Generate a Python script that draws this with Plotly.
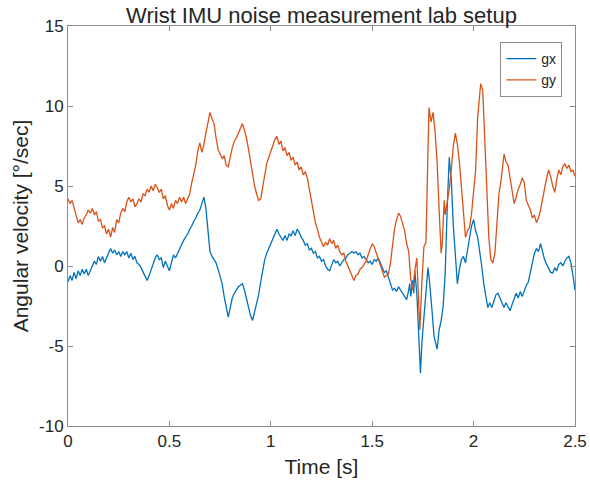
import plotly.graph_objects as go

# ---- data ----
gy_t = [0.00,0.01,0.02,0.03,0.05,0.06,0.07,0.08,0.09,0.10,0.11,0.12,0.13,0.14,0.15,0.16,0.17,0.18,0.19,0.20,
        0.21,0.22,0.23,0.24,0.25,0.26,0.27,0.28,0.29,0.30,0.31,0.32,0.33,0.34,0.35,0.36,0.37,0.38,0.39,0.40,
        0.41,0.42,0.43,0.44,0.45,0.46,0.47,0.48,0.49,0.50,0.51,0.52,0.53,0.54,0.55,0.56,0.57,0.58,0.59,0.60,
        0.61,0.62,0.63,0.64,0.65,0.66,0.67,0.68,0.69,0.70,0.71,0.72,0.73,0.74,0.75,0.76,0.77,0.78,0.79,0.80,
        0.81,0.82,0.83,0.84,0.85,0.86,0.87,0.88,0.89,0.90,0.91,0.92,0.93,0.94,0.95,0.96,0.97,0.98,0.99,1.00,
        1.01,1.02,1.03,1.04,1.05,1.06,1.07,1.08,1.09,1.10,1.11,1.12,1.13,1.14,1.15,1.16,1.17,1.18,1.19,1.20,
        1.21,1.22,1.23,1.24,1.25,1.26,1.27,1.28,1.29,1.30,1.31,1.32,1.33,1.34,1.35,1.36,1.37,1.38,1.39,1.40,
        1.41,1.42,1.43,1.44,1.45,1.46,1.47,1.48,1.49,1.50,1.51,1.52,1.53,1.54,1.55,1.56,1.57,1.58,1.59,1.60,
        1.61,1.62,1.63,1.64,1.65,1.66,1.67,1.68,1.69,1.70,1.71,1.72,1.73,1.735,1.745,1.755,1.765,1.775,1.78,1.79,
        1.80,1.81,1.82,1.83,1.84,1.845,1.85,1.855,1.86,1.87,1.88,1.89,1.90,1.91,1.92,1.93,1.94,1.95,1.96,1.97,
        1.98,1.99,2.00,2.01,2.02,2.035,2.045,2.055,2.065,2.075,2.085,2.095,2.105,2.115,2.125,2.135,2.14,2.15,2.16,2.17,
        2.18,2.19,2.20,2.21,2.22,2.23,2.24,2.25,2.26,2.27,2.28,2.29,2.30,2.31,2.32,2.33,2.34,2.35,2.36,2.37,
        2.38,2.39,2.40,2.41,2.42,2.43,2.44,2.45,2.46,2.47,2.48,2.49,2.50]
gy_v = [4.2,3.9,4.1,3.6,2.7,2.9,2.6,3.0,3.2,3.5,3.3,3.6,3.2,3.4,2.8,2.9,2.4,2.5,2.0,2.3,
        1.8,2.4,2.1,2.9,2.7,3.3,3.6,3.4,4.0,4.3,4.0,4.2,3.7,3.9,4.2,4.0,4.5,4.4,4.8,4.6,
        5.0,4.7,5.1,4.9,4.6,4.8,4.2,4.4,3.8,3.5,3.9,3.6,4.1,3.9,4.3,4.0,4.3,3.9,4.2,4.5,
        5.2,5.8,6.3,7.2,7.7,7.1,7.6,8.3,9.0,9.6,9.2,8.9,8.0,7.3,7.0,6.7,6.9,6.3,6.2,6.9,
        7.4,7.8,8.0,8.3,8.6,8.9,8.5,8.0,7.3,6.5,5.7,5.0,4.5,4.1,4.2,4.9,5.8,6.4,6.8,7.2,
        7.5,7.9,8.1,7.6,7.8,7.2,7.4,6.9,7.1,6.6,6.8,6.3,6.5,6.0,6.2,5.7,5.9,5.5,4.8,4.1,
        3.2,2.7,2.3,1.8,1.5,1.2,1.5,1.3,1.7,1.4,1.6,1.1,1.3,0.9,0.7,0.8,0.3,0.0,-0.4,-0.7,
        -0.9,-0.6,-0.5,-0.2,-0.1,0.1,0.3,0.7,1.1,1.4,1.2,0.8,0.4,0.0,-0.4,-0.7,-0.6,-0.5,0.2,1.2,
        2.3,2.9,3.3,3.1,2.7,2.2,1.4,0.9,-0.8,-1.5,-0.3,0.5,-2.5,-4.0,-1.0,1.2,1.5,7.0,9.9,9.0,
        9.6,8.4,6.5,3.5,0.8,1.3,2.8,4.1,3.2,3.9,4.8,6.0,7.5,8.3,7.6,6.5,4.8,3.0,1.8,2.2,
        2.4,3.3,4.8,6.0,9.3,11.4,11.0,8.0,4.0,1.8,0.4,0.2,0.8,2.5,4.5,5.3,5.8,7.0,6.5,6.3,
        5.5,4.8,3.9,4.3,4.8,5.1,5.5,5.2,4.1,3.8,3.5,3.0,3.2,2.7,3.0,3.5,4.2,4.75,5.5,6.0,
        5.6,5.0,4.6,5.4,6.0,5.7,6.2,6.4,6.1,6.3,5.9,6.0,5.6]

gx_t = [0.00,0.01,0.02,0.03,0.04,0.05,0.06,0.07,0.08,0.09,0.10,0.11,0.12,0.13,0.14,0.15,0.16,0.17,0.18,0.19,
        0.20,0.21,0.22,0.23,0.24,0.25,0.26,0.27,0.28,0.29,0.30,0.31,0.32,0.33,0.34,0.35,0.36,0.37,0.38,0.39,
        0.40,0.41,0.42,0.43,0.44,0.45,0.46,0.47,0.48,0.49,0.50,0.51,0.52,0.53,0.54,0.55,0.56,0.57,0.58,0.59,
        0.60,0.61,0.62,0.63,0.64,0.65,0.66,0.67,0.68,0.69,0.70,0.71,0.72,0.73,0.74,0.75,0.76,0.77,0.78,0.79,
        0.80,0.81,0.82,0.83,0.84,0.85,0.86,0.87,0.88,0.89,0.90,0.91,0.92,0.93,0.94,0.95,0.96,0.97,0.98,0.99,
        1.00,1.01,1.02,1.03,1.04,1.05,1.06,1.07,1.08,1.09,1.10,1.11,1.12,1.13,1.14,1.15,1.16,1.17,1.18,1.19,
        1.20,1.21,1.22,1.23,1.24,1.25,1.26,1.27,1.28,1.29,1.30,1.31,1.32,1.33,1.34,1.35,1.36,1.37,1.38,1.39,
        1.40,1.41,1.42,1.43,1.44,1.45,1.46,1.47,1.48,1.49,1.50,1.51,1.52,1.53,1.54,1.55,1.56,1.57,1.58,1.59,
        1.60,1.61,1.62,1.63,1.64,1.65,1.66,1.67,1.68,1.685,1.69,1.70,1.705,1.71,1.72,1.73,1.738,1.745,1.755,1.765,
        1.775,1.78,1.785,1.795,1.805,1.82,1.83,1.84,1.85,1.86,1.87,1.88,1.885,1.89,1.90,1.91,1.92,1.93,1.94,1.95,
        1.96,1.97,1.98,1.99,2.00,2.01,2.02,2.03,2.04,2.05,2.06,2.07,2.08,2.09,2.10,2.11,2.12,2.13,2.14,2.15,
        2.16,2.17,2.18,2.19,2.20,2.21,2.22,2.23,2.24,2.25,2.26,2.27,2.28,2.29,2.30,2.31,2.32,2.33,2.34,2.35,
        2.36,2.37,2.38,2.39,2.40,2.41,2.42,2.43,2.44,2.45,2.46,2.47,2.48,2.49,2.50]
gx_v = [-1.0,-0.6,-0.9,-0.4,-0.8,-0.3,-0.6,-0.2,-0.5,-0.2,-0.6,-0.3,-0.1,0.3,0.1,0.6,0.3,0.6,0.2,0.5,
        0.8,1.1,0.8,1.0,0.7,0.9,0.6,0.9,0.7,0.9,0.5,0.8,0.4,0.6,0.2,0.1,-0.1,-0.4,-0.6,-0.9,
        -0.6,-0.2,0.1,0.5,0.7,0.4,0.5,-0.1,0.3,0.0,-0.3,0.2,0.7,0.5,0.8,1.1,1.4,1.6,1.8,2.0,
        2.3,2.5,2.8,3.0,3.3,3.5,3.9,4.3,3.6,2.4,0.9,0.6,0.4,0.2,-0.2,-0.6,-1.1,-1.9,-2.6,-3.2,
        -2.6,-2.0,-1.7,-1.5,-1.3,-1.2,-1.1,-1.5,-2.1,-2.7,-3.1,-3.4,-2.9,-2.3,-1.8,-1.0,-0.2,0.4,0.8,1.1,
        1.4,1.7,2.0,2.3,2.0,1.8,1.6,1.9,1.6,2.0,1.9,2.2,1.9,2.3,2.1,1.8,1.6,1.3,1.4,1.0,
        1.1,0.8,0.9,0.5,0.6,0.3,0.4,0.0,-0.2,-0.3,0.1,0.4,0.2,0.3,0.0,0.2,0.4,0.5,0.7,0.8,
        0.9,0.8,0.9,0.7,0.8,0.5,0.6,0.4,0.2,0.3,0.1,0.4,0.3,0.5,0.2,-0.1,-0.4,-0.3,-0.7,-1.2,
        -1.5,-1.4,-1.6,-1.3,-1.5,-1.7,-1.9,-2.1,-1.5,-1.1,-1.9,-0.9,-1.7,-0.3,-1.7,-4.5,-6.7,-4.8,-3.2,-1.5,
        -0.1,-0.6,-1.5,-2.8,-4.4,-5.2,-4.0,-3.4,-2.5,-0.4,3.7,6.8,6.0,5.4,2.5,0.5,-1.1,-0.2,0.4,0.6,
        0.2,1.0,1.8,2.5,2.9,2.2,1.8,1.0,0.0,-1.1,-2.0,-2.6,-2.3,-2.6,-2.2,-1.8,-1.7,-2.0,-2.2,-2.6,
        -2.3,-2.6,-2.8,-2.4,-2.1,-1.7,-2.0,-1.6,-1.9,-1.5,-1.2,-1.0,-0.4,0.2,0.8,1.1,0.9,1.4,0.8,0.4,
        0.1,-0.2,-0.4,-0.45,-0.1,-0.3,0.1,0.2,0.0,0.3,0.5,0.6,0.2,-0.6,-1.5]

x_ticks = [0, 0.5, 1, 1.5, 2, 2.5]
x_tick_labels = ["0", "0.5", "1", "1.5", "2", "2.5"]
y_ticks = [-10, -5, 0, 5, 10, 15]
y_tick_labels = ["-10", "-5", "0", "5", "10", "15"]

FONT = "Liberation Sans, Arial, Helvetica, sans-serif"
AXIS_COLOR = "#8c8c8c"
TEXT_COLOR = "#262626"

fig = go.Figure()
fig.add_trace(go.Scatter(x=gx_t, y=gx_v, mode="lines", name="gx",
                         line=dict(color="#0072BD", width=1.3)))
fig.add_trace(go.Scatter(x=gy_t, y=gy_v, mode="lines", name="gy",
                         line=dict(color="#D95319", width=1.3)))

axis_common = dict(showgrid=False, zeroline=False, showline=True, linecolor=AXIS_COLOR,
                   linewidth=1, mirror="ticks", ticks="inside", ticklen=5, tickcolor=AXIS_COLOR,
                   automargin=False,
                   tickfont=dict(family=FONT, size=17, color=TEXT_COLOR))

fig.update_layout(
    width=590, height=488,
    margin=dict(l=68, r=15, t=26, b=62),
    paper_bgcolor="white", plot_bgcolor="white",
    title=dict(text="Wrist IMU noise measurement lab setup", x=(68 + 253.5) / 590, xanchor="center",
               y=1 - 15 / 488, yanchor="middle",
               font=dict(family=FONT, size=22, color=TEXT_COLOR)),
    xaxis=dict(range=[0, 2.5], tickvals=x_ticks, ticktext=x_tick_labels,
               title=dict(text="Time [s]", font=dict(family=FONT, size=21, color=TEXT_COLOR), standoff=8),
               **axis_common),
    yaxis=dict(range=[-10, 15], tickvals=y_ticks, ticktext=y_tick_labels,
               title=dict(text="Angular velocity [°/sec]", font=dict(family=FONT, size=21, color=TEXT_COLOR),
                          standoff=4),
               **axis_common),
    legend=dict(x=0.975, y=0.96, xanchor="right", yanchor="top",
                bgcolor="white", bordercolor=AXIS_COLOR, borderwidth=1,
                font=dict(family=FONT, size=14, color=TEXT_COLOR),
                tracegroupgap=0, itemwidth=30),
    showlegend=True,
)

fig.write_html("out.html")
